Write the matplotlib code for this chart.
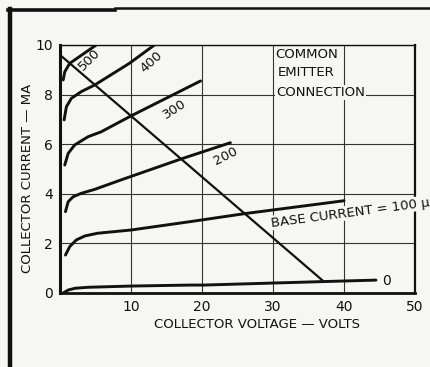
import matplotlib
matplotlib.use("Agg")
import matplotlib.pyplot as plt
from matplotlib.lines import Line2D

plt.rcParams["font.family"] = ["DejaVu Sans"]

# collector characteristics, common emitter (volts, mA), one curve per base current
IB_LABELS = ["0", "100", "200", "300", "400", "500"]
VC_0 = [0.45, 1.15, 2.1, 3.9, 10, 18.4, 20.25, 37, 44.5]
IC_0 = [0.0, 0.12, 0.19, 0.23, 0.28, 0.32, 0.32, 0.46, 0.52]
VC_100 = [0.77, 1.37, 2.3, 3.5, 5.3, 10, 18.4, 26, 40]
IC_100 = [1.53, 1.87, 2.14, 2.30, 2.41, 2.54, 2.88, 3.2, 3.72]
VC_200 = [0.77, 1.15, 1.85, 3.0, 4.9, 8.6, 17, 24]
IC_200 = [3.28, 3.68, 3.88, 4.02, 4.18, 4.56, 5.4, 6.06]
VC_300 = [0.67, 1.15, 2.07, 3.94, 5.8, 10, 19.8]
IC_300 = [5.16, 5.63, 5.97, 6.30, 6.5, 7.14, 8.55]
VC_400 = [0.58, 0.9, 1.6, 3.0, 4.9, 9.77, 13.3]
IC_400 = [6.98, 7.51, 7.85, 8.12, 8.39, 9.26, 10.0]
VC_500 = [0.45, 0.67, 1.37, 5.1]
IC_500 = [8.59, 8.92, 9.26, 10.0]

# load line
VC_LOAD = [0, 37]
IC_LOAD = [9.6, 0.5]

BG = "#f6f6f4"
INK = "#111111"

fig = plt.figure(figsize=(4.31, 3.67), dpi=100, facecolor=BG)
ax = fig.add_axes([60 / 431, 74 / 367, 355 / 431, 248 / 367], facecolor=BG)

for vc, ic in ((VC_0, IC_0), (VC_100, IC_100), (VC_200, IC_200),
               (VC_300, IC_300), (VC_400, IC_400), (VC_500, IC_500)):
    ax.plot(vc, ic, color=INK, lw=2.1, solid_capstyle="round", solid_joinstyle="round")
ax.plot(VC_LOAD, IC_LOAD, color=INK, lw=1.6)

ax.set_xlim(0, 50)
ax.set_ylim(0, 10)
ax.set_xticks([10, 20, 30, 40, 50])
ax.set_yticks([0, 2, 4, 6, 8, 10])
ax.tick_params(length=0, pad=5, labelsize=10, colors=INK)
ax.grid(True, color="#333333", lw=0.8)
ax.set_axisbelow(True)
for side, lw in (("left", 2.2), ("bottom", 2.0), ("right", 1.6), ("top", 1.0)):
    ax.spines[side].set_linewidth(lw)
    ax.spines[side].set_color(INK)

# curve labels
lab = dict(fontsize=9.5, color=INK, ha="center", va="center", rotation_mode="anchor")
ax.text(4.1, 9.4, IB_LABELS[5], rotation=45, **lab)
ax.text(12.9, 9.3, IB_LABELS[4], rotation=42, **lab)
ax.text(16.2, 7.4, IB_LABELS[3], rotation=33, **lab)
ax.text(23.3, 5.5, IB_LABELS[2], rotation=27, **lab)
ax.text(29.8, 2.82, "BASE CURRENT = " + IB_LABELS[1] + " μa", rotation=7.5,
        fontsize=9.5, color=INK, ha="left", va="center", rotation_mode="anchor",
        bbox=dict(facecolor=BG, edgecolor="none", pad=0.6))
ax.text(46.0, 0.5, IB_LABELS[0], fontsize=10, color=INK, ha="center", va="center")

box = dict(facecolor=BG, edgecolor="none", pad=0.8)
ax.text(30.35, 9.63, "COMMON", fontsize=9.5, color=INK, ha="left", va="center", bbox=box)
ax.text(30.7, 8.9, "EMITTER", fontsize=9.5, color=INK, ha="left", va="center", bbox=box)
ax.text(30.5, 8.08, "CONNECTION", fontsize=9.5, color=INK, ha="left", va="center", bbox=box)

fig.text(28 / 431, 1 - 178 / 367, "COLLECTOR CURRENT — MA", rotation=90,
         fontsize=9.5, color=INK, ha="center", va="center")
fig.text(257 / 431, 1 - 325 / 367, "COLLECTOR VOLTAGE — VOLTS",
         fontsize=9.5, color=INK, ha="center", va="center")

# page frame
fig.add_artist(Line2D([10 / 431, 10 / 431], [0, 1 - 9 / 367], lw=3.2, color=INK))
fig.add_artist(Line2D([8 / 431, 115 / 431], [1 - 10 / 367] * 2, lw=2.6, color=INK))
fig.add_artist(Line2D([115 / 431, 1], [1 - 8 / 367] * 2, lw=1.8, color=INK))

fig.savefig("out.png", dpi=100, facecolor=BG)
